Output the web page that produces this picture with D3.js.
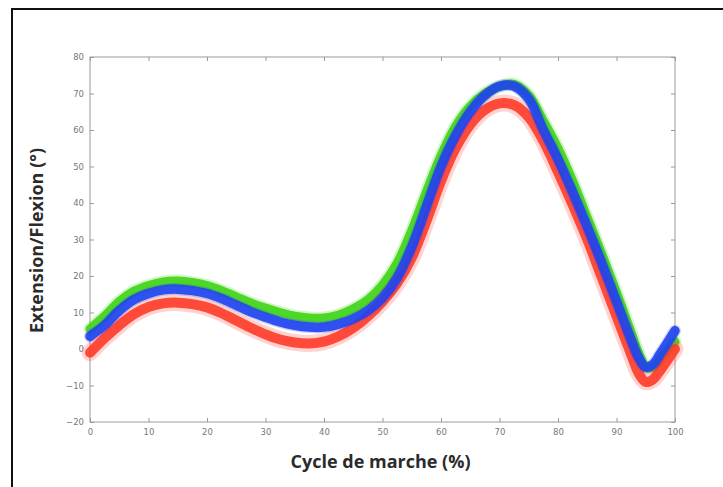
<!DOCTYPE html>
<html>
<head>
<meta charset="utf-8">
<script src="https://cdn.jsdelivr.net/npm/d3@7/dist/d3.min.js"></script>
<style>
  html, body { margin: 0; padding: 0; background: #fff; }
  svg { display: block; }
</style>
</head>
<body>
<svg id="chart" width="723" height="487"></svg>
<script>
// Gait cycle (%) sample positions
const cycle = [0, 2.5, 5, 7.5, 10, 12.5, 15, 17.5, 20, 22.5, 25, 27.5, 30, 32.5, 35, 37.5, 40,
  42.5, 45, 47.5, 50, 52.5, 55, 57.5, 60, 62.5, 65, 67.5, 70, 72.5, 75, 77.5, 80, 82.5, 85,
  87.5, 90, 92.5, 93.75, 95, 96.25, 97.5, 100];

// Knee extension/flexion angle (°), one series per group
const greenSeries = [5.5, 9.0, 13.0, 15.8, 17.4, 18.4, 18.6, 18.2, 17.4, 16.0, 14.3, 12.6, 11.2,
  10.0, 9.0, 8.5, 8.5, 9.3, 11.0, 13.5, 17.5, 23.5, 32.5, 43.0, 53.0, 61.0, 66.5, 70.0, 72.0,
  72.5, 69.5, 62.5, 55.0, 46.0, 36.0, 26.0, 15.5, 4.5, -1.0, -4.8, -5.0, -2.8, 2.0];
const redSeries = [-1.0, 3.0, 6.5, 9.5, 11.5, 12.5, 12.7, 12.3, 11.4, 9.8, 7.8, 5.8, 4.0,
  2.6, 1.8, 1.5, 2.0, 3.5, 5.8, 9.0, 13.0, 18.0, 25.0, 35.0, 46.0, 55.0, 61.5, 65.5, 67.3,
  66.8, 63.5, 57.0, 48.5, 39.5, 30.0, 19.5, 9.0, -1.5, -6.5, -9.0, -8.3, -5.8, 0.0];
const blueSeries = [3.5, 6.5, 10.5, 13.5, 15.2, 16.2, 16.4, 16.0, 15.2, 13.8, 12.0, 10.2, 8.7,
  7.4, 6.5, 6.0, 6.0, 6.8, 8.3, 10.5, 14.0, 19.5, 28.0, 39.0, 50.0, 58.5, 65.0, 69.5, 72.0,
  72.0, 68.5, 60.0, 52.0, 43.0, 33.5, 23.5, 13.0, 2.5, -2.3, -5.0, -4.2, -1.3, 5.0];

// Axis ticks
const xTicks = [0, 10, 20, 30, 40, 50, 60, 70, 80, 90, 100];
const yTicks = [-20, -10, 0, 10, 20, 30, 40, 50, 60, 70, 80];

const svg = d3.select("#chart");

// outer frame (top and left edges)
svg.append("line").attr("x1", 11).attr("x2", 723).attr("y1", 9).attr("y2", 9)
  .attr("stroke", "#111").attr("stroke-width", 2);
svg.append("line").attr("x1", 12).attr("x2", 12).attr("y1", 9).attr("y2", 487)
  .attr("stroke", "#111").attr("stroke-width", 2);

const plot = { left: 90, right: 675, top: 57, bottom: 422 };

const x = d3.scaleLinear().domain([0, 100]).range([plot.left, plot.right]);
const y = d3.scaleLinear().domain([-20, 80]).range([plot.bottom, plot.top]);

const g = svg.append("g");

// plot box
g.append("rect")
  .attr("x", plot.left).attr("y", plot.top)
  .attr("width", plot.right - plot.left).attr("height", plot.bottom - plot.top)
  .attr("fill", "none").attr("stroke", "#9a9a9a").attr("stroke-width", 1);

// axes with inward ticks
const tickLen = 4;
const xAxis = d3.axisBottom(x).tickValues(xTicks).tickSize(-tickLen).tickPadding(7)
  .tickFormat(d3.format("d"));
const yAxis = d3.axisLeft(y).tickValues(yTicks).tickSize(-tickLen).tickPadding(6)
  .tickFormat(d3.format("d"));
const xTop = d3.axisTop(x).tickValues(xTicks).tickSize(-tickLen).tickFormat("");
const yRight = d3.axisRight(y).tickValues(yTicks).tickSize(-tickLen).tickFormat("");

function styleAxis(sel) {
  sel.select(".domain").remove();
  sel.selectAll(".tick line").attr("stroke", "#9a9a9a");
  sel.selectAll(".tick text")
    .attr("fill", "#777")
    .attr("font-family", "'DejaVu Sans', sans-serif")
    .attr("font-size", 8.5);
}

g.append("g").attr("transform", `translate(0,${plot.bottom})`).call(xAxis).call(styleAxis);
g.append("g").attr("transform", `translate(${plot.left},0)`).call(yAxis).call(styleAxis);
g.append("g").attr("transform", `translate(0,${plot.top})`).call(xTop).call(styleAxis);
g.append("g").attr("transform", `translate(${plot.right},0)`).call(yRight).call(styleAxis);

// curves: each group drawn as a soft wide band with a dense core
const line = d3.line()
  .x((d, i) => x(cycle[i]))
  .y(d => y(d))
  .curve(d3.curveCatmullRom.alpha(0.5));

const groups = [
  { name: "green", values: greenSeries, color: "#3ed414", halo: 13, core: 9 },
  { name: "red", values: redSeries, color: "#ff3b28", halo: 17, core: 10 },
  { name: "blue", values: blueSeries, color: "#1f42f0", halo: 12, core: 9.5 }
];

const curves = g.append("g").attr("class", "curves");
groups.forEach(s => {
  curves.append("path")
    .datum(s.values)
    .attr("d", line)
    .attr("fill", "none")
    .attr("stroke", s.color)
    .attr("stroke-opacity", 0.22)
    .attr("stroke-width", s.halo)
    .attr("stroke-linejoin", "round")
    .attr("stroke-linecap", "round");
  curves.append("path")
    .datum(s.values)
    .attr("d", line)
    .attr("fill", "none")
    .attr("stroke", s.color)
    .attr("stroke-opacity", 0.9)
    .attr("stroke-width", s.core)
    .attr("stroke-linejoin", "round")
    .attr("stroke-linecap", "round");
});

// axis titles
svg.append("text")
  .attr("x", (plot.left + plot.right) / 2 - 2)
  .attr("y", 468)
  .attr("text-anchor", "middle")
  .attr("font-family", "'Open Sans', 'DejaVu Sans', sans-serif")
  .attr("font-weight", "bold")
  .attr("font-size", 18)
  .attr("fill", "#2b2b2b")
  .text("Cycle de marche (%)");

svg.append("text")
  .attr("transform", `translate(43,${(plot.top + plot.bottom) / 2 + 1}) rotate(-90)`)
  .attr("text-anchor", "middle")
  .attr("font-family", "'Open Sans', 'DejaVu Sans', sans-serif")
  .attr("font-weight", "bold")
  .attr("font-size", 18)
  .attr("fill", "#2b2b2b")
  .text("Extension/Flexion (°)");
</script>
</body>
</html>
